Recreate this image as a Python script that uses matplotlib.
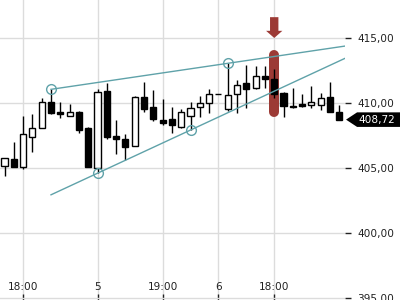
import matplotlib.pyplot as plt
import numpy as np
from matplotlib.patches import Polygon
from matplotlib.transforms import blended_transform_factory

# candle data
opens = [405.15, 405.67, 405.10, 407.36, 408.05, 410.10, 409.28, 408.98, 409.31, 408.05,
         404.98, 410.95, 407.46, 407.21, 406.69, 410.44, 409.67, 408.69, 408.75, 408.18,
         409.00, 409.67, 409.98, 410.69, 409.52, 410.67, 411.56, 411.13, 412.08, 411.82,
         410.75, 409.80, 409.92, 409.85, 409.85, 410.44, 409.28]
highs = [405.75, 407.02, 409.00, 409.15, 410.36, 411.05, 410.10, 409.92, 409.36, 408.18,
         411.05, 411.56, 408.69, 407.62, 410.50, 411.59, 411.00, 410.28, 409.72, 409.50,
         410.05, 410.54, 411.05, 410.69, 413.05, 411.77, 412.92, 412.85, 412.85, 412.59,
         410.82, 411.15, 410.69, 411.31, 410.75, 411.62, 409.85]
lows = [404.38, 405.10, 404.90, 406.25, 408.05, 409.15, 408.82, 408.98, 407.67, 405.10,
        404.60, 407.21, 406.05, 405.62, 406.69, 409.33, 408.64, 408.31, 407.72, 408.10,
        407.92, 408.90, 409.21, 410.69, 409.38, 409.25, 409.59, 411.05, 411.13, 410.36,
        408.90, 409.59, 409.72, 409.64, 409.46, 409.33, 408.72]
closes = [405.75, 405.10, 407.59, 408.05, 410.05, 409.20, 409.13, 409.28, 407.92, 405.10,
          410.82, 407.36, 407.21, 406.64, 410.44, 409.52, 408.75, 408.48, 408.31, 409.31,
          409.59, 409.98, 410.69, 410.69, 410.60, 411.38, 411.05, 412.08, 411.87, 410.67,
          409.79, 409.72, 409.77, 410.08, 410.36, 409.33, 408.72]

# x axis labels at candle positions
tick_pos = [2, 10, 17, 23, 29]
tick_labels = ["18:00", "5", "19:00", "6", "18:00"]
y_ticks = [395, 400, 405, 410, 415]

# trend line pivots
upper_idx = [5, 24]
upper_val = [411.05, 413.05]
lower_idx = [10, 20]
lower_val = [404.60, 407.92]
line_start = 5
highlight_idx = 29
last_price = 408.72

teal = "#5fa2a9"
red = "#9c3a35"

fig = plt.figure(figsize=(4, 3), dpi=100)
ax = fig.add_axes([0, 0, 345 / 400, 1])
xmin, xmax = -0.484, 36.61
ax.set_xlim(xmin, xmax)
ax.set_ylim(394.85, 417.92)

for s in ax.spines.values():
    s.set_visible(False)

ax.grid(True, color="#dcdcdc", linewidth=1.0, zorder=0)
ax.set_axisbelow(True)

x = np.arange(len(opens))
o = np.array(opens)
c = np.array(closes)

# highlight bar and arrow
hl_lo = lows[highlight_idx] - 1.05
hl_hi = highs[highlight_idx] + 1.1
ax.plot([highlight_idx, highlight_idx], [hl_lo, hl_hi], color=red, lw=7.2,
        solid_capstyle="round", zorder=1)
ax.arrow(highlight_idx, 416.6, 0, -1.6, width=0.9, head_width=1.75, head_length=0.55,
         length_includes_head=True, color=red, lw=0, zorder=3)

# candles
ax.vlines(x, lows, highs, color="black", lw=1.0, zorder=2)
up = c >= o
colors = np.where(up, "white", "black")
ax.bar(x, c - o, bottom=o, width=0.66, color=colors, edgecolor="black",
       linewidth=1.0, zorder=2.5)

# trend lines
xs = np.array([line_start, xmax])
for idx, val in [(upper_idx, upper_val), (lower_idx, lower_val)]:
    k, b = np.polyfit(idx, val, 1)
    ax.plot(xs, k * xs + b, color=teal, lw=1.0, zorder=4)
ax.plot(upper_idx + lower_idx, upper_val + lower_val, "o", mfc="none", mec=teal,
        ms=7, mew=1.0, zorder=5)

# axes ticks
ax.set_xticks(tick_pos)
ax.set_xticklabels([])
ax.tick_params(axis="x", direction="in", length=4, width=1, color="#222222")
trans = blended_transform_factory(ax.transData, ax.transAxes)
for p, lab in zip(tick_pos, tick_labels):
    ax.text(p, 0.043, lab, transform=trans, ha="center", va="center",
            fontsize=7.6, color="#222222")

ax.yaxis.tick_right()
ax.set_yticks(y_ticks)
ax.set_yticklabels([f"{v:.2f}".replace(".", ",") for v in y_ticks])
ax.tick_params(axis="y", direction="out", length=4, width=1, pad=5,
               labelsize=7.6, color="#222222", labelcolor="#222222")

# last price tag
tr2 = blended_transform_factory(ax.transAxes, ax.transData)
h = 0.56
tag = Polygon([(1.003, last_price), (1.035, last_price + h), (1.16, last_price + h),
               (1.16, last_price - h), (1.035, last_price - h)], closed=True,
              transform=tr2, facecolor="black", edgecolor="none", clip_on=False, zorder=6)
ax.add_patch(tag)
ax.text(1.04, last_price, f"{last_price:.2f}".replace(".", ","), transform=tr2,
        ha="left", va="center", color="white", fontsize=7.6, clip_on=False, zorder=7)

fig.savefig("out.png", dpi=100)
